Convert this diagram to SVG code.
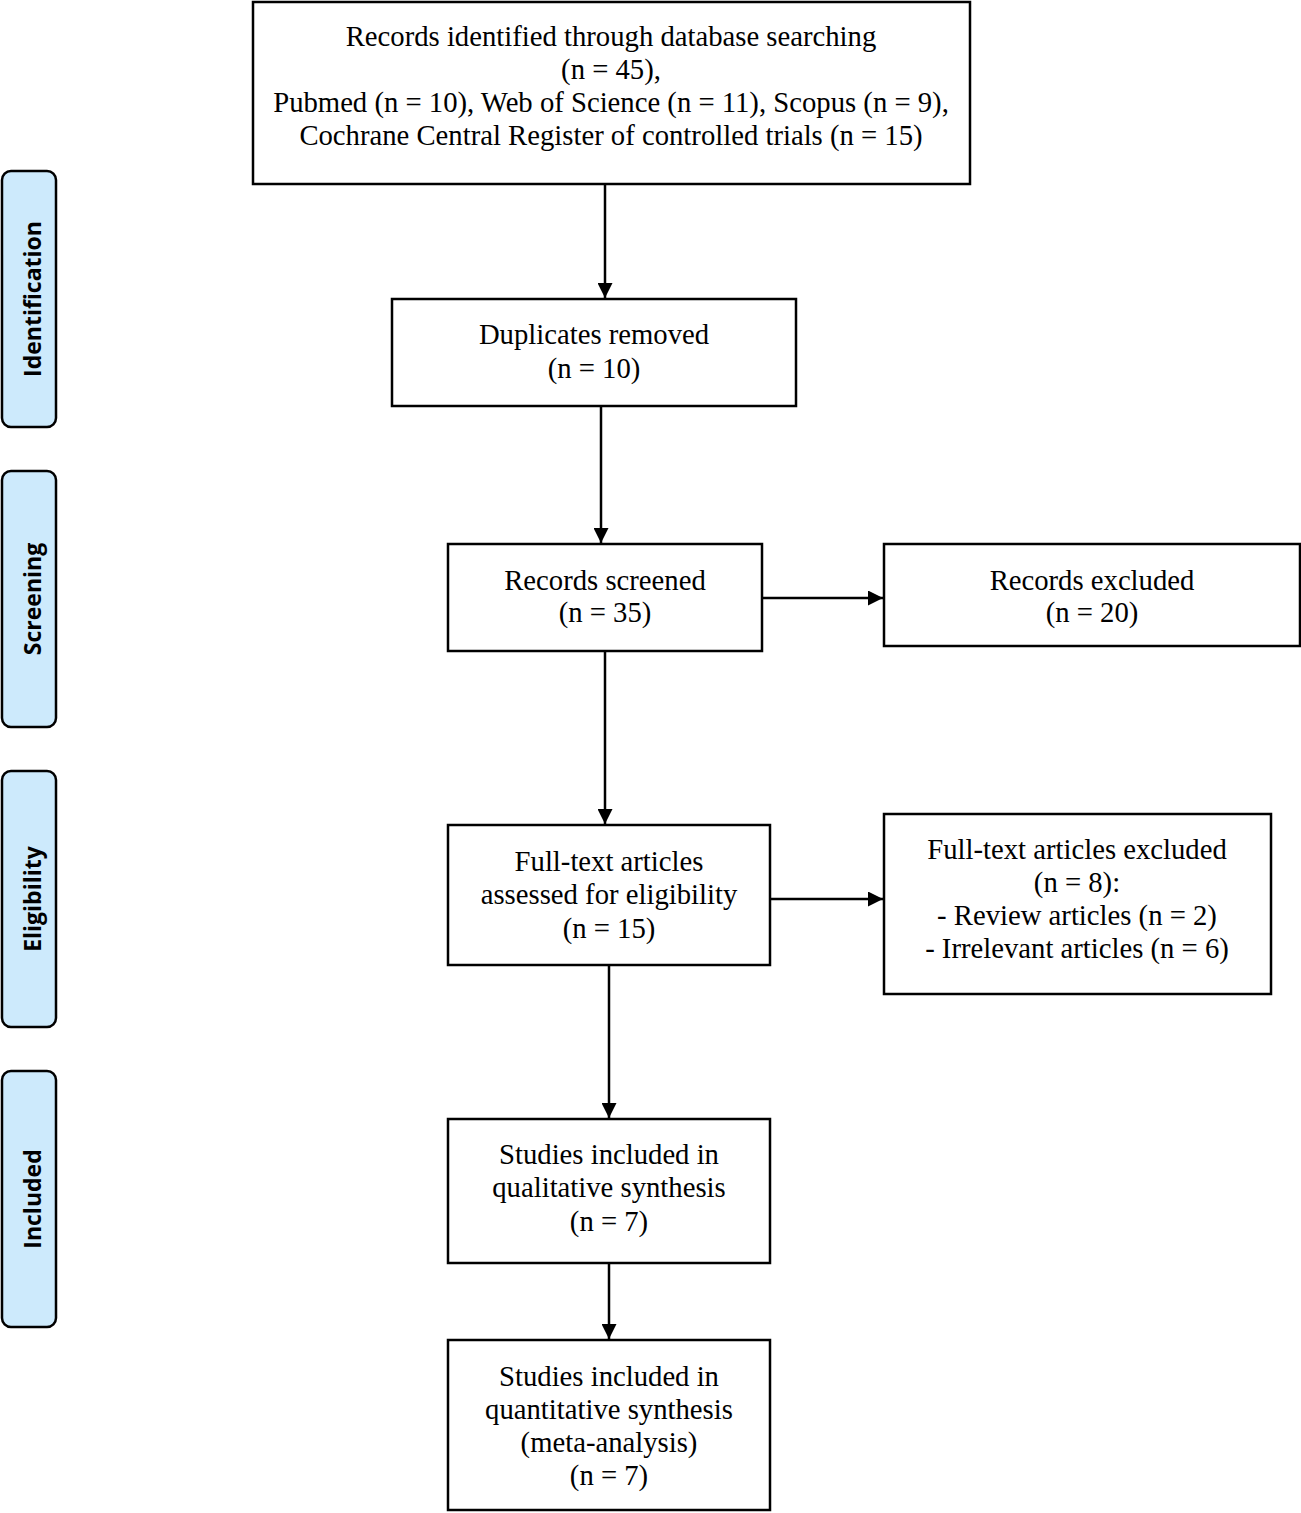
<svg xmlns="http://www.w3.org/2000/svg" width="1301" height="1513" viewBox="0 0 1301 1513">
<defs>
<style>
.box{fill:#fff;stroke:#000;stroke-width:2.5}
.side{fill:#cdeafc;stroke:#000;stroke-width:2.5}
.t{font-family:"Liberation Serif","Times New Roman",serif;font-size:28.7px;fill:#000;text-anchor:middle}
.s{font-family:"Open Sans","DejaVu Sans",sans-serif;font-size:23px;font-weight:bold;fill:#000;text-anchor:middle}
.c{stroke:#000;stroke-width:2.5;fill:none;marker-end:url(#ah)}
</style>
<marker id="ah" viewBox="0 0 10 10" refX="10" refY="5" markerWidth="6" markerHeight="6" markerUnits="strokeWidth" orient="auto">
<path d="M0,0 L10,5 L0,10 z" fill="#000"/>
</marker>
</defs>
<rect width="1301" height="1513" fill="#fff"/>
<g id="side-identification"><rect class="side" x="2" y="171" width="54" height="256" rx="9"/><text class="s" transform="translate(41,299) rotate(-90)">Identification</text></g>
<g id="side-screening"><rect class="side" x="2" y="471" width="54" height="256" rx="9"/><text class="s" transform="translate(41,599) rotate(-90)">Screening</text></g>
<g id="side-eligibility"><rect class="side" x="2" y="771" width="54" height="256" rx="9"/><text class="s" transform="translate(41,899) rotate(-90)">Eligibility</text></g>
<g id="side-included"><rect class="side" x="2" y="1071" width="54" height="256" rx="9"/><text class="s" transform="translate(41,1199) rotate(-90)">Included</text></g>

<g id="connectors">
<line class="c" x1="605" y1="185" x2="605" y2="298"/>
<line class="c" x1="601" y1="407" x2="601" y2="543"/>
<line class="c" x1="605" y1="652" x2="605" y2="824"/>
<line class="c" x1="609" y1="966" x2="609" y2="1118"/>
<line class="c" x1="609" y1="1264" x2="609" y2="1339"/>
<line class="c" x1="763" y1="598" x2="883" y2="598"/>
<line class="c" x1="771" y1="899" x2="883" y2="899"/>
</g>

<g id="n-records"><rect class="box" x="253" y="2" width="717" height="182"/>
<text class="t" x="611" y="46">Records identified through database searching</text>
<text class="t" x="611" y="79">(n = 45),</text>
<text class="t" x="611" y="112">Pubmed (n = 10), Web of Science (n = 11), Scopus (n = 9),</text>
<text class="t" x="611" y="145">Cochrane Central Register of controlled trials (n = 15)</text></g>

<g id="n-duplicates"><rect class="box" x="392" y="299" width="404" height="107"/>
<text class="t" x="594" y="344">Duplicates removed</text>
<text class="t" x="594" y="378">(n = 10)</text></g>

<g id="n-screened"><rect class="box" x="448" y="544" width="314" height="107"/>
<text class="t" x="605" y="590">Records screened</text>
<text class="t" x="605" y="622">(n = 35)</text></g>

<g id="n-excluded"><rect class="box" x="884" y="544" width="416" height="102"/>
<text class="t" x="1092" y="590">Records excluded</text>
<text class="t" x="1092" y="622">(n = 20)</text></g>

<g id="n-fulltext"><rect class="box" x="448" y="825" width="322" height="140"/>
<text class="t" x="609" y="871">Full-text articles</text>
<text class="t" x="609" y="904">assessed for eligibility</text>
<text class="t" x="609" y="938">(n = 15)</text></g>

<g id="n-ftexcluded"><rect class="box" x="884" y="814" width="387" height="180"/>
<text class="t" x="1077" y="859">Full-text articles excluded</text>
<text class="t" x="1077" y="892">(n = 8):</text>
<text class="t" x="1077" y="925">- Review articles (n = 2)</text>
<text class="t" x="1077" y="958">- Irrelevant articles (n = 6)</text></g>

<g id="n-qualitative"><rect class="box" x="448" y="1119" width="322" height="144"/>
<text class="t" x="609" y="1164">Studies included in</text>
<text class="t" x="609" y="1197">qualitative synthesis</text>
<text class="t" x="609" y="1231">(n = 7)</text></g>

<g id="n-quantitative"><rect class="box" x="448" y="1340" width="322" height="170"/>
<text class="t" x="609" y="1386">Studies included in</text>
<text class="t" x="609" y="1419">quantitative synthesis</text>
<text class="t" x="609" y="1452">(meta-analysis)</text>
<text class="t" x="609" y="1485">(n = 7)</text></g>
</svg>
